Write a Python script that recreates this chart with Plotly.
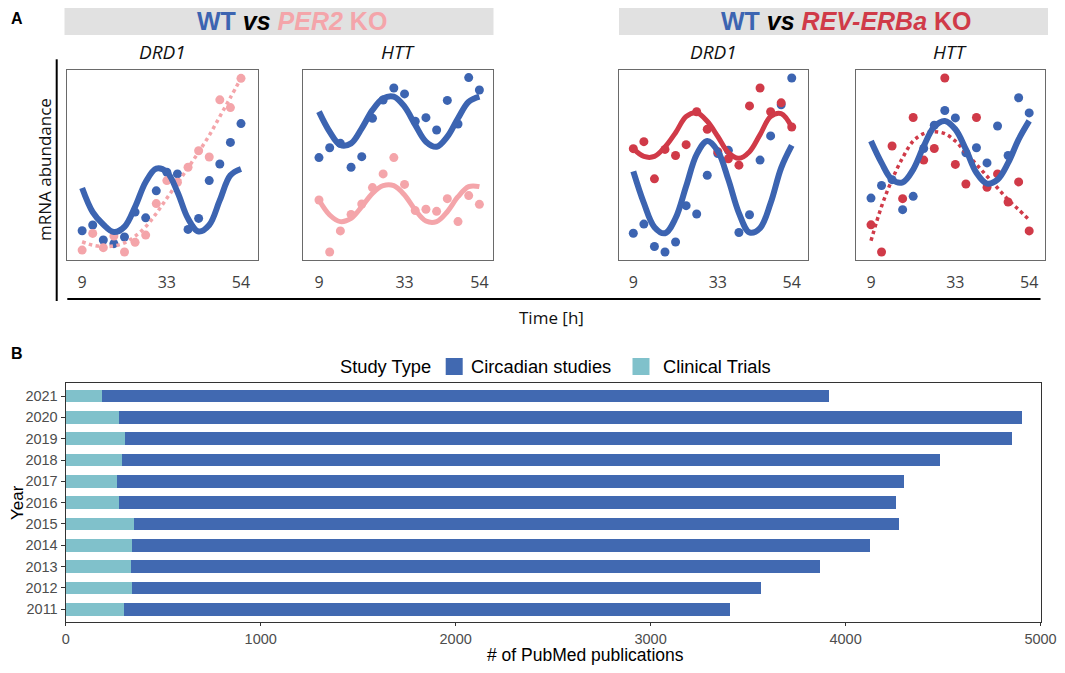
# circadian expression panels (A) + pubmed publication counts (B)

import plotly.graph_objects as go

# the page adds an 8px body margin, so the figure is drawn 16px smaller and
# every position below is given in pixels of the full 1065x673 picture
PAGE_W, PAGE_H = 1065, 673
PAD = 8
W, H = PAGE_W - 2 * PAD, PAGE_H - 2 * PAD

# ---- panel A data (mRNA abundance, arbitrary units 0-100 inside each box) ----
hours = [9, 12, 15, 18, 21, 24, 27, 30, 33, 36, 39, 42, 45, 48, 51, 54]
hour_ticks = [9, 33, 54]

per2_drd1_wt = [15.4, 18.4, 10.5, 8.6, 12.1, 25.2, 22.2, 36.4, 46.2, 45.3, 16.1, 21.9, 41.8, 50.5, 61.9, 71.8]
per2_drd1_ko = [5.2, 14.0, 6.5, 12.6, 4.2, 9.3, 13.1, 29.7, 41.8, 40.9, 48.8, 57.5, 54.2, 84.3, 80.2, 95.6]
per2_drd1_wt_fit = [37.9, 25.2, 18.7, 14.7, 17.5, 28.0, 41.1, 48.1, 46.3, 35.8, 21.8, 15.0, 18.4, 31.5, 44.6, 47.9]
per2_drd1_ko_fit = [9.6, 7.8, 7.0, 7.4, 9.0, 12.5, 17.5, 24.5, 32.5, 40.5, 48.5, 56.8, 65.6, 75.5, 85.5, 95.6]

per2_htt_wt = [53.9, 59.1, 61.4, 48.8, 54.4, 74.6, 84.2, 90.5, 87.4, 73.0, 74.9, 68.4, 84.0, 71.6, 96.0, 89.5]
per2_htt_ko = [31.6, 4.2, 15.3, 24.0, 29.5, 38.1, 45.3, 53.9, 39.8, 26.0, 26.7, 25.6, 32.3, 20.2, 33.9, 29.3]
per2_htt_wt_fit = [78.1, 67.5, 60.5, 61.4, 69.3, 78.9, 85.1, 86.0, 80.7, 71.1, 62.3, 59.6, 64.9, 74.6, 83.3, 86.0]
per2_htt_ko_fit = [31.6, 23.7, 20.2, 21.9, 28.1, 35.1, 39.1, 39.1, 34.2, 26.3, 20.5, 20.2, 25.4, 33.3, 38.6, 38.6]

rev_drd1_wt = [14.1, 18.9, 7.1, 4.2, 9.5, 28.6, 24.2, 44.6, 56.0, 57.7, 14.5, 23.8, 52.6, 65.3, 81.7, 95.8]
rev_drd1_ko = [58.6, 62.3, 42.7, 58.2, 55.0, 60.7, 78.0, 68.8, 57.0, 53.3, 49.9, 81.1, 90.5, 78.0, 82.7, 70.0]
rev_drd1_wt_fit = [46.7, 30.0, 17.3, 14.1, 22.0, 38.8, 55.6, 62.6, 57.3, 42.3, 24.7, 14.5, 16.8, 30.0, 48.5, 60.3]
rev_drd1_ko_fit = [58.6, 54.5, 54.5, 59.5, 67.0, 75.5, 77.5, 73.0, 65.0, 56.5, 53.5, 57.0, 66.0, 75.5, 77.0, 70.0]

rev_htt_wt = [32.6, 39.2, 42.3, 26.5, 33.5, 58.7, 70.9, 78.7, 74.8, 56.4, 59.1, 51.1, 70.5, 55.0, 85.4, 77.4]
rev_htt_ko = [18.5, 4.2, 60.0, 32.3, 75.0, 52.6, 58.7, 95.8, 50.3, 40.0, 75.0, 38.3, 45.3, 30.5, 41.1, 15.3]
rev_htt_wt_fit = [62.6, 51.1, 42.3, 40.9, 47.6, 59.9, 70.2, 73.2, 68.8, 58.2, 45.9, 40.2, 42.3, 51.1, 63.5, 73.2]
rev_htt_ko_fit = [10.1, 28.2, 42.3, 53.8, 62.6, 66.5, 67.5, 66.5, 62.6, 56.4, 50.3, 44.1, 37.9, 31.7, 26.5, 21.2]

# ---- panel B data ----
years = ['2011', '2012', '2013', '2014', '2015', '2016', '2017', '2018', '2019', '2020', '2021']
clinical_trials = [300, 340, 337, 340, 349, 273, 265, 289, 305, 275, 184]
circadian_studies = [3107, 3225, 3532, 3784, 3924, 3987, 4037, 4194, 4548, 4629, 3732]
study_types = ['Circadian studies', 'Clinical Trials']

BLUE = '#3c64b1'
PINK = '#f4a5aa'
RED = '#d03a48'
BAR_BLUE = '#4169b1'
BAR_TEAL = '#80c1cb'
SEGOE = 'Open Sans, sans-serif'
ARIAL = 'Liberation Sans, Arial, sans-serif'


def px(x):
    return (x - PAD) / W


def py(y):
    return 1 - (y - PAD) / H


fig = go.Figure()

# each small panel: (wt, ko, wt fit, ko fit, ko colour, ko fit dash, box pixels, x range, title)
panels = [
    (per2_drd1_wt, per2_drd1_ko, per2_drd1_wt_fit, per2_drd1_ko_fit, PINK, 'dot', (67.3, 258.3), [4.8, 58.9], 'DRD1'),
    (per2_htt_wt, per2_htt_ko, per2_htt_wt_fit, per2_htt_ko_fit, PINK, 'solid', (303.3, 493.3), [4.6, 57.9], 'HTT'),
    (rev_drd1_wt, rev_drd1_ko, rev_drd1_wt_fit, rev_drd1_ko_fit, RED, 'solid', (618.7, 808.3), [4.85, 58.7], 'DRD1'),
    (rev_htt_wt, rev_htt_ko, rev_htt_wt_fit, rev_htt_ko_fit, RED, 'dot', (855.7, 1045.0), [4.65, 58.5], 'HTT'),
]

annotations = []
for i, (wt, ko, wt_fit, ko_fit, ko_col, ko_dash, (x0, x1), xr, title) in enumerate(panels, start=1):
    xa, ya = f'x{i}', f'y{i}'
    fig.add_trace(go.Scatter(x=hours, y=wt, mode='markers', marker=dict(color=BLUE, size=9),
                             xaxis=xa, yaxis=ya, showlegend=False))
    fig.add_trace(go.Scatter(x=hours, y=ko, mode='markers', marker=dict(color=ko_col, size=9),
                             xaxis=xa, yaxis=ya, showlegend=False))
    ko_width = 3.5 if ko_dash == 'dot' else 5
    fig.add_trace(go.Scatter(x=hours, y=ko_fit, mode='lines', line_shape='spline',
                             line=dict(color=ko_col, width=ko_width, dash=ko_dash),
                             xaxis=xa, yaxis=ya, showlegend=False))
    fig.add_trace(go.Scatter(x=hours, y=wt_fit, mode='lines', line_shape='spline',
                             line=dict(color=BLUE, width=6),
                             xaxis=xa, yaxis=ya, showlegend=False))

    axis_box = dict(showline=True, mirror=True, linecolor='#6a6a6a', linewidth=1.4,
                    showgrid=False, zeroline=False, fixedrange=True, automargin=False)
    fig.update_layout(**{
        f'xaxis{i}': dict(domain=[px(x0), px(x1)], range=xr, tickvals=hour_ticks,
                          ticks='outside', ticklen=8, tickcolor='rgba(0,0,0,0)',
                          tickfont=dict(family=SEGOE, size=16, color='#404040'),
                          anchor=ya, **axis_box),
        f'yaxis{i}': dict(domain=[py(260), py(70)], range=[0, 100], showticklabels=False,
                          anchor=xa, **axis_box),
    })
    annotations.append(dict(text=f'<i>{title}</i>', x=px((x0 + x1) / 2), y=py(52),
                            font=dict(family=SEGOE, size=19, color='#111111')))

# ---- panel B: stacked horizontal bars ----
bar_colors = {'Circadian studies': BAR_BLUE, 'Clinical Trials': BAR_TEAL}
fig.add_trace(go.Bar(y=years, x=clinical_trials, orientation='h', name='Clinical Trials',
                     marker=dict(color=BAR_TEAL, line=dict(width=0)), showlegend=False,
                     xaxis='x5', yaxis='y5'))
fig.add_trace(go.Bar(y=years, x=circadian_studies, orientation='h', name='Circadian studies',
                     marker=dict(color=BAR_BLUE, line=dict(width=0)), showlegend=False,
                     xaxis='x5', yaxis='y5'))

fig.update_layout(
    xaxis5=dict(domain=[px(65.8), px(1040.5)], range=[0, 5000], tickvals=[0, 1000, 2000, 3000, 4000, 5000],
                ticks='outside', ticklen=3, tickcolor='#333333', tickwidth=1,
                tickfont=dict(family=ARIAL, size=14.5, color='#4d4d4d'),
                showline=True, mirror=True, linecolor='#333333', linewidth=1.4,
                showgrid=False, zeroline=False, anchor='y5', automargin=False),
    yaxis5=dict(domain=[py(622), py(383.3)], range=[-0.6, 10.6], type='category',
                ticks='outside', ticklen=4, tickcolor='#333333', tickwidth=1,
                tickfont=dict(family=ARIAL, size=14.5, color='#4d4d4d'),
                showline=True, mirror=True, linecolor='#333333', linewidth=1.4,
                showgrid=False, zeroline=False, anchor='x5', automargin=False),
    barmode='stack',
    bargap=0.4,
)

# ---- legend of panel B, drawn by hand so it can't push the margins ----
legend_font = dict(family=ARIAL, size=18.3, color='black')
annotations.append(dict(text='Study Type', x=px(338), y=py(366.5), xanchor='left', font=legend_font))
legend_shapes = []
for name, (sx0, sx1, tx) in zip(study_types, [(445.7, 462.7, 469.3), (632.5, 649.5, 660.5)]):
    legend_shapes.append(dict(type='rect', xref='paper', yref='paper', x0=px(sx0), x1=px(sx1),
                              y0=py(375), y1=py(358), fillcolor=bar_colors[name], line=dict(width=0)))
    annotations.append(dict(text=name, x=px(tx), y=py(366.5), xanchor='left', font=legend_font))

# ---- text ----
annotations += [
    dict(text='<b>A</b>', x=px(17), y=py(19), font=dict(family=ARIAL, size=16, color='black')),
    dict(text='<b>B</b>', x=px(17), y=py(353), font=dict(family=ARIAL, size=16, color='black')),
    dict(text=f'<b><span style="color:{BLUE}">WT</span> <i>vs</i> '
              f'<span style="color:{PINK}"><i>PER2</i> KO</span></b>',
         x=px(292), y=py(21.5), font=dict(family=ARIAL, size=25, color='black')),
    dict(text=f'<b><span style="color:{BLUE}">WT</span> <i>vs</i> '
              f'<span style="color:{RED}"><i>REV-ERBa</i> KO</span></b>',
         x=px(846), y=py(21.5), font=dict(family=ARIAL, size=25, color='black')),
    dict(text='mRNA abundance', x=px(44), y=py(170), textangle=-90,
         font=dict(family=SEGOE, size=17, color='#111111')),
    dict(text='Time [h]', x=px(551), y=py(317), font=dict(family=SEGOE, size=17, color='#111111')),
    dict(text='Year', x=px(17), y=py(503), textangle=-90, font=dict(family=ARIAL, size=17, color='black')),
    dict(text='# of PubMed publications', x=px(585), y=py(655),
         font=dict(family=ARIAL, size=17.5, color='black')),
]
for a in annotations:
    a.update(xref='paper', yref='paper', showarrow=False)
    a.setdefault('xanchor', 'center')
    a.setdefault('yanchor', 'middle')

shapes = [
    # grey banners
    dict(type='rect', xref='paper', yref='paper', x0=px(64.5), x1=px(493.5), y0=py(35), y1=py(2.7),
         fillcolor='#e1e1e1', line=dict(width=0), layer='below'),
    dict(type='rect', xref='paper', yref='paper', x0=px(619), x1=px(1048), y0=py(35), y1=py(2.7),
         fillcolor='#e1e1e1', line=dict(width=0), layer='below'),
    # outer axes of panel A
    dict(type='line', xref='paper', yref='paper', x0=px(56.7), x1=px(56.7), y0=py(59.3), y1=py(301),
         line=dict(color='black', width=2)),
    dict(type='line', xref='paper', yref='paper', x0=px(67.3), x1=px(1040.5), y0=py(299), y1=py(299),
         line=dict(color='black', width=2)),
] + legend_shapes

fig.update_layout(
    width=W, height=H,
    margin=dict(l=0, r=0, t=0, b=0, autoexpand=False),
    paper_bgcolor='white', plot_bgcolor='white',
    annotations=annotations,
    shapes=shapes,
    showlegend=False,
)

fig.write_html("out.html")
